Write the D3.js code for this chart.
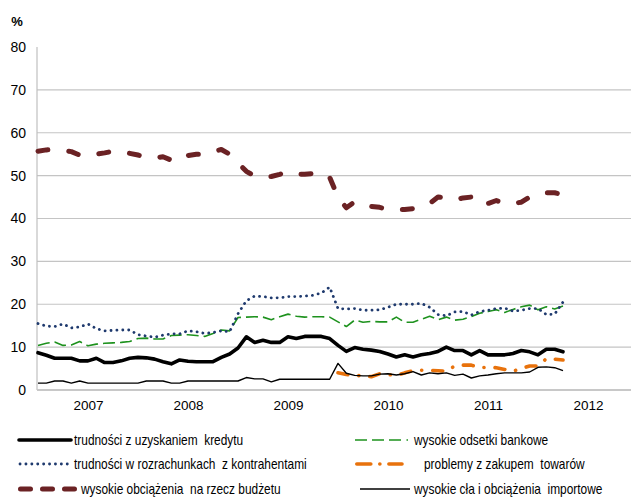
<!DOCTYPE html>
<html>
<head>
<meta charset="utf-8">
<script src="https://cdn.jsdelivr.net/npm/d3@7"></script>
<style>
  html, body { margin: 0; padding: 0; background: #fff; }
  svg { display: block; }
  text { font-family: "Liberation Sans", Arial, sans-serif; fill: #000; }
</style>
</head>
<body>
<svg id="chart" width="631" height="498"></svg>
<script>
// ---- DATA (monthly, Jan 2007 – Apr 2012) ----
const yearLabels = ["2007", "2008", "2009", "2010", "2011", "2012"];
const yTicks = [0, 10, 20, 30, 40, 50, 60, 70, 80];

const kredyt = [8.7, 8.1, 7.4, 7.4, 7.4, 6.8, 6.8, 7.4, 6.4, 6.4, 6.8, 7.4,
  7.6, 7.5, 7.2, 6.6, 6.1, 7.0, 6.7, 6.6, 6.6, 6.6, 7.6, 8.4,
  9.8, 12.4, 11.1, 11.6, 11.1, 11.1, 12.4, 12.0, 12.5, 12.5, 12.5, 12.0,
  10.4, 9.0, 9.9, 9.5, 9.3, 9.0, 8.4, 7.7, 8.2, 7.7, 8.2, 8.5,
  9.0, 10.0, 9.2, 9.2, 8.2, 9.2, 8.2, 8.2, 8.2, 8.5, 9.2, 8.9,
  8.2, 9.5, 9.5, 8.9];

const odsetki = [10.4, 10.9, 11.2, 10.4, 10.5, 11.3, 10.3, 10.7, 10.9, 11.0, 11.1, 11.3,
  12.0, 12.1, 11.9, 11.9, 12.7, 12.8, 12.9, 12.7, 12.5, 13.2, 14.0, 13.8,
  16.9, 17.0, 17.1, 17.0, 16.4, 17.1, 17.7, 17.2, 17.0, 17.1, 17.1, 17.0,
  15.9, 14.8, 16.3, 15.8, 16.0, 15.9, 15.9, 17.0, 15.8, 15.8, 16.5, 17.2,
  16.4, 17.0, 16.3, 16.5, 17.1, 17.9, 18.3, 18.7, 18.1, 18.8, 19.4, 19.8,
  18.7, 19.4, 18.9, 19.6];

const rozrachunki = [15.5, 14.9, 14.8, 15.4, 14.5, 14.7, 15.4, 14.3, 13.8, 13.9, 14.0, 14.0,
  12.9, 12.6, 12.3, 12.8, 13.1, 13.1, 13.8, 13.6, 13.2, 13.4, 13.8, 13.6,
  17.8, 20.8, 21.9, 21.8, 21.5, 21.5, 21.8, 21.8, 21.9, 22.1, 22.6, 24.0,
  19.0, 18.9, 19.0, 18.6, 18.6, 18.7, 19.3, 20.0, 20.0, 20.0, 20.2, 19.3,
  17.6, 17.3, 18.2, 18.3, 17.5, 18.3, 18.6, 19.0, 19.1, 18.4, 18.6, 19.0,
  19.0, 17.6, 17.7, 20.5];

const zakupy = [null, null, null, null, null, null, null, null, null, null, null, null,
  null, null, null, null, null, null, null, null, null, null, null, null,
  null, null, null, null, null, null, null, null, null, null, null, null,
  4.0, 3.6, 3.4, 3.3, 3.1, 3.8, 3.6, 3.4, 4.0, 4.5, 4.6, 4.6,
  4.5, 4.4, 5.6, 5.8, 5.8, 5.2, 5.3, 5.2, 4.8, 4.4, 5.0, 5.6,
  5.6, 7.3, 7.2, 7.0];

const budzet = [55.7, 56.0, 56.1, 55.9, 55.6, 54.8, 54.6, 55.0, 55.3, 55.7, 55.5, 55.2,
  54.8, 54.3, 54.1, 54.4, 53.6, 53.4, 54.7, 55.0, 55.0, 55.6, 56.1, 55.0,
  53.0, 51.0, 49.9, 49.8, 49.8, 50.3, 50.9, 50.4, 50.3, 50.5, 50.7, 49.6,
  45.0, 42.5, 43.9, 43.5, 42.8, 42.6, 42.1, 42.1, 42.1, 42.3, 42.9, 43.5,
  45.0, 44.8, 44.3, 44.8, 45.0, 43.2, 43.5, 44.2, 43.5, 43.5, 43.8, 45.0,
  45.7, 46.0, 46.0, 45.5];

const cla = [1.6, 1.6, 2.1, 2.1, 1.6, 2.1, 1.6, 1.6, 1.6, 1.6, 1.6, 1.6,
  1.6, 2.1, 2.1, 2.1, 1.6, 1.6, 2.1, 2.1, 2.1, 2.1, 2.1, 2.1,
  2.1, 2.9, 2.6, 2.6, 1.9, 2.5, 2.5, 2.5, 2.5, 2.5, 2.5, 2.5,
  6.2, 3.9, 3.4, 3.3, 3.3, 3.7, 3.8, 3.5, 3.8, 4.3, 3.5, 4.0,
  3.8, 4.0, 3.4, 3.7, 2.8, 3.3, 3.5, 3.8, 4.0, 4.0, 4.0, 4.2,
  5.3, 5.4, 5.2, 4.5];

const seriesNames = [
  "trudności z uzyskaniem  kredytu",
  "wysokie odsetki bankowe",
  "trudności w rozrachunkach  z kontrahentami",
  "problemy z zakupem  towarów",
  "wysokie obciążenia  na rzecz budżetu",
  "wysokie cła i obciążenia  importowe"
];

// ---- STYLES ----
const styles = [
  { color: "#000000", width: 3.6, dash: null, cap: "round", legDash: null },
  { color: "#1e921e", width: 1.6, dash: "12 5", cap: "butt", legDash: "12 5 12 5 12 5.5 1.5 40" },
  { color: "#1f3a6e", width: 2.8, dash: "0.1 5.8", cap: "round", legDash: "0.1 5.8" },
  { color: "#e8720c", width: 3.6, dash: "10 11 0.1 11", cap: "round", legDash: "14 9 0.1 9" },
  { color: "#6b2224", width: 5, dash: "10 21", cap: "round", legDash: "10 12" },
  { color: "#000000", width: 1.4, dash: null, cap: "butt", legDash: null }
];
const allSeries = [kredyt, odsetki, rozrachunki, zakupy, budzet, cla];

const svg = d3.select("#chart");
const W = 631, H = 498;
svg.append("rect").attr("width", W).attr("height", H).attr("fill", "#fff");

const plotLeft = 37, plotRight = 631, plotTop = 47, plotBottom = 390;
const x = d3.scaleLinear().domain([0, 72]).range([38, 638]);
const y = d3.scaleLinear().domain([0, 80]).range([plotBottom, plotTop]);

svg.append("g").selectAll("line")
  .data(yTicks.filter(d => d > 0 && d < 80))
  .join("line")
  .attr("x1", plotLeft).attr("x2", plotRight)
  .attr("y1", d => y(d)).attr("y2", d => y(d))
  .attr("stroke", "#c4c4c4").attr("stroke-width", 1.2);

svg.append("line")
  .attr("x1", plotLeft).attr("x2", plotLeft)
  .attr("y1", plotTop).attr("y2", plotBottom)
  .attr("stroke", "#c0c0c0").attr("stroke-width", 1.2);
svg.append("line")
  .attr("x1", plotLeft).attr("x2", plotRight)
  .attr("y1", plotBottom).attr("y2", plotBottom)
  .attr("stroke", "#c8c8c8").attr("stroke-width", 2);

const yAxis = d3.axisLeft(y).tickValues(yTicks).tickSize(0).tickPadding(0);
const gy = svg.append("g").attr("transform", "translate(26,0)").call(yAxis);
gy.select(".domain").remove();
gy.selectAll("text").attr("font-size", 14).attr("font-family", "Liberation Sans, Arial, sans-serif").attr("fill", "#000");

svg.append("text").attr("x", 17).attr("y", 26).attr("text-anchor", "middle")
  .attr("font-size", 13).attr("font-weight", "bold").text("%");

const xAxis = d3.axisBottom(x)
  .tickValues(yearLabels.map((d, i) => 6 + 12 * i))
  .tickFormat((d, i) => yearLabels[i])
  .tickSize(0).tickPadding(0);
const gx = svg.append("g").attr("transform", "translate(0,400)").call(xAxis);
gx.select(".domain").remove();
gx.selectAll("text").attr("font-size", 13.5).attr("font-family", "Liberation Sans, Arial, sans-serif").attr("fill", "#000");

const line = d3.line()
  .defined(d => d != null)
  .x((d, i) => x(i))
  .y(d => y(d));

svg.append("clipPath").attr("id", "clip").append("rect")
  .attr("x", 0).attr("y", 0).attr("width", W).attr("height", plotBottom + 4);

const gLines = svg.append("g").attr("clip-path", "url(#clip)");
[0, 1, 2, 3, 4, 5].forEach(k => {
  const s = styles[k];
  gLines.append("path")
    .datum(allSeries[k])
    .attr("d", line)
    .attr("fill", "none")
    .attr("stroke", s.color)
    .attr("stroke-width", s.width)
    .attr("stroke-linecap", s.cap)
    .attr("stroke-linejoin", "round")
    .attr("stroke-dasharray", s.dash);
});

// legend
const legendPos = [
  { x1: 19, x2: 71, tx: 74, ty: 440 },
  { x1: 355, x2: 410, tx: 414, ty: 440 },
  { x1: 20, x2: 72, tx: 74, ty: 464 },
  { x1: 356.8, x2: 402, tx: 424, ty: 464 },
  { x1: 20.5, x2: 74.5, tx: 81, ty: 489 },
  { x1: 360, x2: 410, tx: 414, ty: 489 }
];
const leg = svg.append("g");
seriesNames.forEach((name, k) => {
  const s = styles[k];
  const p = legendPos[k];
  leg.append("line")
    .attr("x1", p.x1).attr("x2", p.x2)
    .attr("y1", p.ty).attr("y2", p.ty)
    .attr("stroke", s.color)
    .attr("stroke-width", s.width)
    .attr("stroke-linecap", s.cap)
    .attr("stroke-dasharray", s.legDash);
  leg.append("g")
    .attr("transform", `translate(${p.tx},${p.ty}) scale(0.85,1)`)
    .append("text")
    .attr("x", 0).attr("y", 0)
    .attr("dy", "0.35em")
    .attr("font-size", 14)
    .style("white-space", "pre")
    .text(name);
});
</script>
</body>
</html>
